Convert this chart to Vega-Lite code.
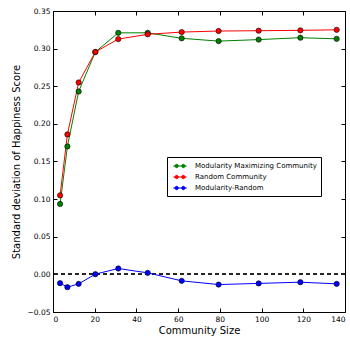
{
  "$schema": "https://vega.github.io/schema/vega-lite/v6.json",
  "width": 292,
  "height": 301,
  "autosize": "none",
  "padding": {"left": 53, "top": 11, "right": 5, "bottom": 33},
  "config": {
    "font": "DejaVu Sans",
    "view": {"stroke": "black", "strokeWidth": 1},
    "axis": {
      "grid": false,
      "domain": false,
      "tickColor": "black",
      "tickSize": -4,
      "labelColor": "black",
      "labelFontSize": 7.5,
      "labelFont": "DejaVu Sans",
      "titleFont": "DejaVu Sans",
      "titleFontSize": 10,
      "titleFontWeight": "normal",
      "titleColor": "black"
    }
  },
  "data": {
    "values": [
      {"size": 3.4, "series": "Modularity Maximizing Community", "value": 0.0936},
      {"size": 6.9, "series": "Modularity Maximizing Community", "value": 0.170},
      {"size": 12.3, "series": "Modularity Maximizing Community", "value": 0.243},
      {"size": 20.3, "series": "Modularity Maximizing Community", "value": 0.2955},
      {"size": 31.3, "series": "Modularity Maximizing Community", "value": 0.321},
      {"size": 45.4, "series": "Modularity Maximizing Community", "value": 0.321},
      {"size": 61.7, "series": "Modularity Maximizing Community", "value": 0.3137},
      {"size": 79.4, "series": "Modularity Maximizing Community", "value": 0.310},
      {"size": 98.6, "series": "Modularity Maximizing Community", "value": 0.312},
      {"size": 118.6, "series": "Modularity Maximizing Community", "value": 0.3145},
      {"size": 136, "series": "Modularity Maximizing Community", "value": 0.313},
      {"size": 3.4, "series": "Random Community", "value": 0.105},
      {"size": 6.9, "series": "Random Community", "value": 0.186},
      {"size": 12.3, "series": "Random Community", "value": 0.255},
      {"size": 20.3, "series": "Random Community", "value": 0.2955},
      {"size": 31.3, "series": "Random Community", "value": 0.3127},
      {"size": 45.4, "series": "Random Community", "value": 0.319},
      {"size": 61.7, "series": "Random Community", "value": 0.322},
      {"size": 79.4, "series": "Random Community", "value": 0.3234},
      {"size": 98.6, "series": "Random Community", "value": 0.3238},
      {"size": 118.6, "series": "Random Community", "value": 0.3243},
      {"size": 136, "series": "Random Community", "value": 0.325},
      {"size": 3.4, "series": "Modularity-Random", "value": -0.0117},
      {"size": 6.9, "series": "Modularity-Random", "value": -0.017},
      {"size": 12.3, "series": "Modularity-Random", "value": -0.0126},
      {"size": 20.3, "series": "Modularity-Random", "value": 0.0003},
      {"size": 31.3, "series": "Modularity-Random", "value": 0.0078},
      {"size": 45.4, "series": "Modularity-Random", "value": 0.002},
      {"size": 61.7, "series": "Modularity-Random", "value": -0.0086},
      {"size": 79.4, "series": "Modularity-Random", "value": -0.0135},
      {"size": 98.6, "series": "Modularity-Random", "value": -0.012},
      {"size": 118.6, "series": "Modularity-Random", "value": -0.0104},
      {"size": 136, "series": "Modularity-Random", "value": -0.0126}
    ]
  },
  "layer": [
    {
      "mark": {"type": "rule", "color": "#222222", "strokeDash": [4, 3], "strokeWidth": 0.7},
      "encoding": {"y": {"datum": 0, "type": "quantitative", "axis": null, "scale": {"domain": [-0.05, 0.35], "nice": false, "zero": false}}}
    },
    {
      "mark": {"type": "line", "strokeWidth": 1},
      "encoding": {
        "x": {"field": "size", "type": "quantitative", "scale": {"domain": [0, 140], "nice": false, "zero": false}, "axis": {"orient": "bottom", "values": [0, 20, 40, 60, 80, 100, 120, 140], "title": "Community Size", "labelPadding": 7, "titlePadding": 3}},
        "y": {"field": "value", "type": "quantitative", "scale": {"domain": [-0.05, 0.35], "nice": false, "zero": false}, "axis": {"orient": "left", "values": [-0.05, 0, 0.05, 0.1, 0.15, 0.2, 0.25, 0.3, 0.35], "format": ".2f", "title": "Standard deviation of Happiness Score", "labelPadding": 7, "titlePadding": 6}},
        "color": {
          "field": "series", "type": "nominal",
          "scale": {"domain": ["Modularity Maximizing Community", "Random Community", "Modularity-Random"], "range": ["#008000", "#ff0000", "#0000ff"]},
          "legend": {
            "title": null,
            "orient": "none",
            "legendX": 114,
            "legendY": 146,
            "strokeColor": "black",
            "fillColor": "white",
            "padding": 4,
            "labelFontSize": 7,
            "labelFont": "DejaVu Sans",
            "labelColor": "black",
            "rowPadding": 2,
            "symbolSize": 70,
            "symbolType": "M-1.6,0L1.6,0M-0.4,0A0.4,0.4,0,1,1,-1.2,0A0.4,0.4,0,1,1,-0.4,0ZM1.2,0A0.4,0.4,0,1,1,0.4,0A0.4,0.4,0,1,1,1.2,0Z",
            "symbolOffset": 4,
            "labelOffset": 10,
            "encode": {"symbols": {"update": {"fill": {"scale": "color", "field": "value"}, "stroke": {"scale": "color", "field": "value"}, "strokeWidth": {"value": 1}}}}
          }
        }
      }
    },
    {
      "mark": {"type": "point", "filled": true, "opacity": 1, "size": 28, "stroke": "black", "strokeWidth": 0.6},
      "encoding": {
        "x": {"field": "size", "type": "quantitative", "axis": {"orient": "top", "values": [0, 20, 40, 60, 80, 100, 120, 140], "labels": false, "title": null}},
        "y": {"field": "value", "type": "quantitative", "axis": {"orient": "right", "values": [-0.05, 0, 0.05, 0.1, 0.15, 0.2, 0.25, 0.3, 0.35], "labels": false, "title": null}},
        "fill": {"field": "series", "type": "nominal", "scale": {"domain": ["Modularity Maximizing Community", "Random Community", "Modularity-Random"], "range": ["#008000", "#ff0000", "#0000ff"]}, "legend": null}
      }
    }
  ],
  "resolve": {"axis": {"x": "independent", "y": "independent"}}
}
